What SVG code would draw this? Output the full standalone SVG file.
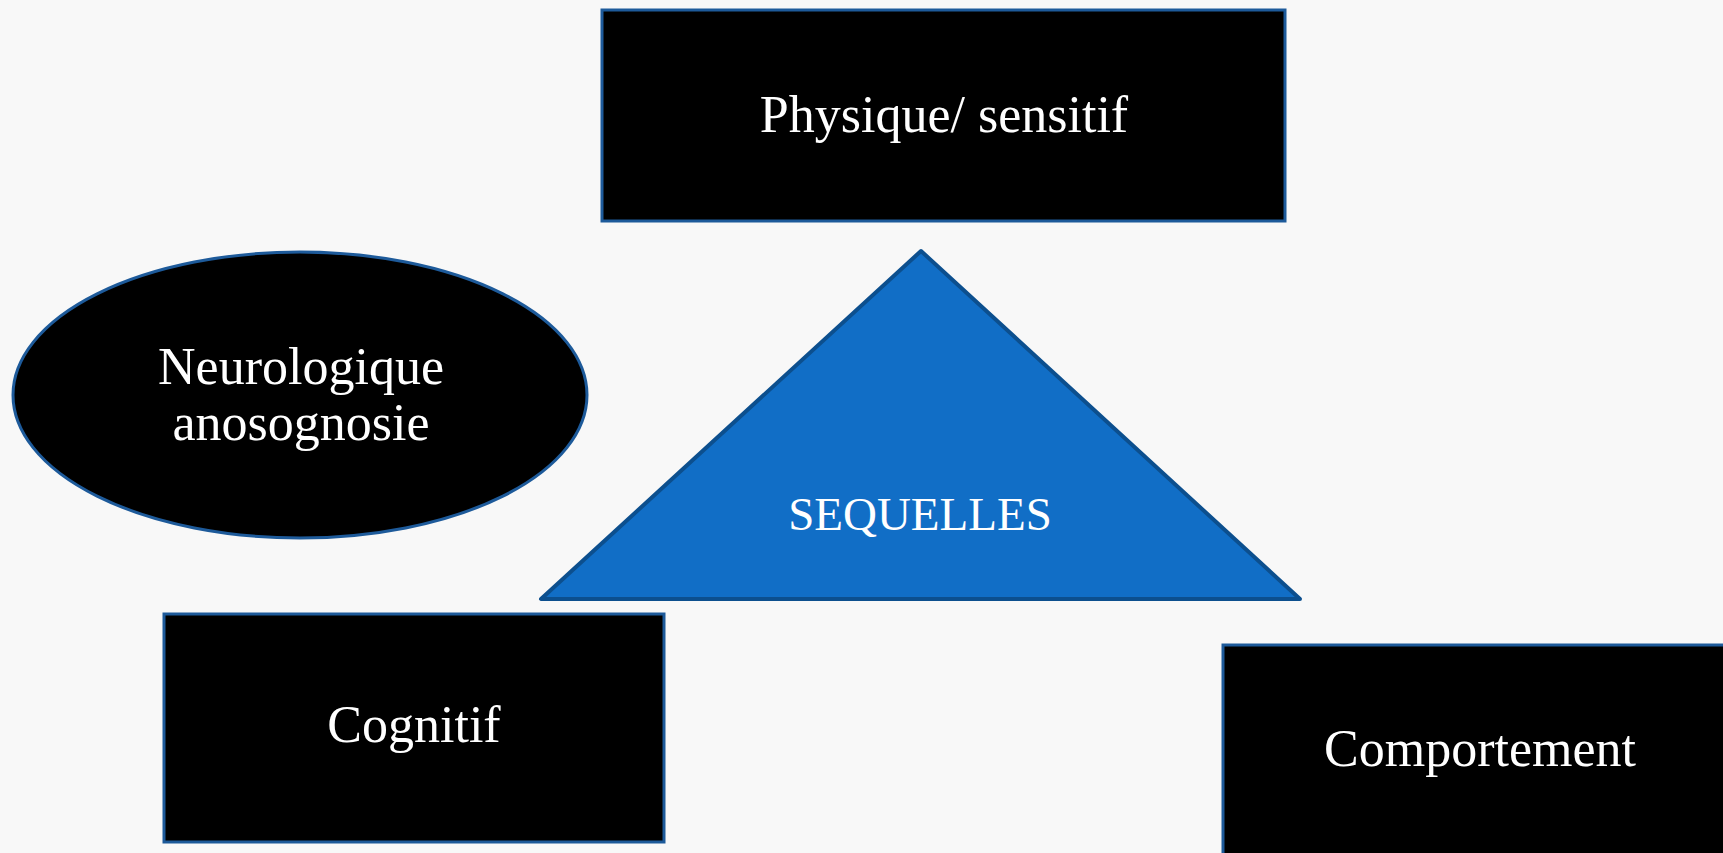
<svg xmlns="http://www.w3.org/2000/svg" width="1723" height="853" viewBox="0 0 1723 853">
<style>
.box{fill:#000;stroke:#1d5a9a;stroke-width:3}
.tri{fill:#116ec6;stroke:#0c4f8e;stroke-width:4;stroke-linejoin:round}
.lbl{font-family:"Liberation Serif","Times New Roman",serif;font-size:52px;fill:#fff;text-anchor:middle}
</style>
<rect width="1723" height="853" fill="#f8f8f8"/>
<g id="connectors"/>
<g id="physique">
<rect class="box" x="602" y="10" width="683" height="211"/>
<text class="lbl" x="944" y="132">Physique/ sensitif</text>
</g>
<g id="neurologique">
<ellipse class="box" cx="300" cy="395" rx="287" ry="143"/>
<text class="lbl" x="301" y="384">Neurologique</text>
<text class="lbl" x="301" y="440">anosognosie</text>
</g>
<g id="sequelles">
<polygon class="tri" points="921,251 541,599 1300,599"/>
<text class="lbl" x="920" y="530" style="font-size:47px">SEQUELLES</text>
</g>
<g id="cognitif">
<rect class="box" x="164" y="614" width="500" height="228"/>
<text class="lbl" x="414" y="742">Cognitif</text>
</g>
<g id="comportement">
<rect class="box" x="1223" y="645" width="510" height="220"/>
<text class="lbl" x="1480" y="766">Comportement</text>
</g>
</svg>
